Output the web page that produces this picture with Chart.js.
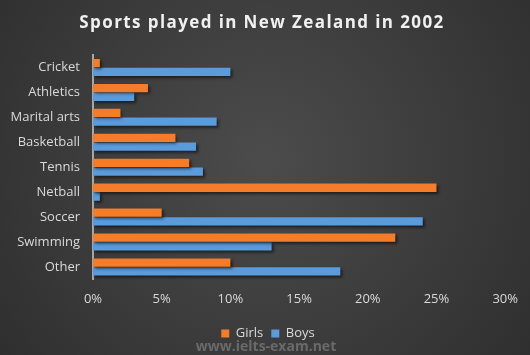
<!DOCTYPE html>
<html><head><meta charset="utf-8">
<script src="https://cdn.jsdelivr.net/npm/chart.js@4/dist/chart.umd.min.js"></script>
<style>html,body{margin:0;padding:0;background:#3a3a3a}#w{width:530px;height:355px}</style>
</head><body><div id="w"><canvas id="c"></canvas></div>
<script>
const categories = ["Cricket","Athletics","Marital arts","Basketball","Tennis","Netball","Soccer","Swimming","Other"];
const girls = [0.5, 4, 2, 6, 7, 25, 5, 22, 10];
const boys = [10, 3, 9, 7.5, 8, 0.5, 24, 13, 18];
const xTicks = [0, 5, 10, 15, 20, 25, 30];
const titleText = 'Sports played in New Zealand in 2002';
const watermark = 'www.ielts-exam.net';
const FONT = '"Open Sans", sans-serif';

const bgPlugin = {
  id: 'bg',
  afterLayout(chart) {
    if (chart.legend) { chart.legend.left += 14; chart.legend.right += 14; }
  },
  beforeDraw(chart) {
    const ctx = chart.ctx, w = chart.width, h = chart.height;
    const g = ctx.createRadialGradient(w*0.5, h*0.45, 10, w*0.5, h*0.45, w*0.62);
    g.addColorStop(0, '#4b4b4b');
    g.addColorStop(1, '#2f2f2f');
    ctx.save(); ctx.fillStyle = g; ctx.fillRect(0, 0, w, h);
    ctx.font = 'bold 17px ' + FONT;
    ctx.fillStyle = '#f0f0f0';
    ctx.textAlign = 'center'; ctx.textBaseline = 'middle';
    try { ctx.letterSpacing = '1.4px'; } catch(e) {}
    ctx.fillText(titleText, 262, 23);
    try { ctx.letterSpacing = '0px'; } catch(e) {}
    ctx.font = 'bold 14px ' + FONT;
    ctx.fillStyle = '#6a6a6a';
    ctx.fillText(watermark, 266, 347);
    ctx.restore();
  }
};

const shadowPlugin = {
  id: 'shadow',
  beforeDatasetsDraw(chart) {
    chart.ctx.save();
    chart.ctx.shadowColor = 'rgba(0,0,0,0.55)';
    chart.ctx.shadowOffsetX = 2; chart.ctx.shadowOffsetY = 2; chart.ctx.shadowBlur = 3;
  },
  afterDatasetsDraw(chart) { chart.ctx.restore(); }
};

new Chart(document.getElementById('c'), {
  type: 'bar',
  data: {
    labels: categories,
    datasets: [
      { label: 'Girls', data: girls, backgroundColor: '#f57c28', categoryPercentage: 0.7, barPercentage: 0.95 },
      { label: 'Boys', data: boys, backgroundColor: '#5a9bdc', categoryPercentage: 0.7, barPercentage: 0.95 }
    ]
  },
  options: {
    indexAxis: 'y',
    responsive: true, maintainAspectRatio: false, animation: false,
    layout: { padding: { left: 0, right: 22, top: 55, bottom: 5 } },
    plugins: {
      title: { display: false },
      legend: { position: 'bottom', labels: { color: '#d9d9d9', boxWidth: 8, boxHeight: 8, padding: 8,
        font: { family: FONT, size: 13 } } },
      tooltip: { enabled: false }
    },
    scales: {
      x: { min: 0, max: 30, afterBuildTicks(ax) { ax.ticks = xTicks.map(v => ({ value: v })); },
        grid: { display: false, drawTicks: false }, border: { display: false },
        ticks: { color: '#d9d9d9', padding: 12, font: { family: FONT, size: 13 }, callback: v => v + '%' } },
      y: { afterFit(s) { s.width = 93; },
        grid: { display: false, drawTicks: false }, border: { display: true, color: '#a6a6a6', width: 2 },
        ticks: { color: '#d9d9d9', padding: 13, font: { family: FONT, size: 13 } } }
    }
  },
  plugins: [bgPlugin, shadowPlugin]
});
</script></body></html>
